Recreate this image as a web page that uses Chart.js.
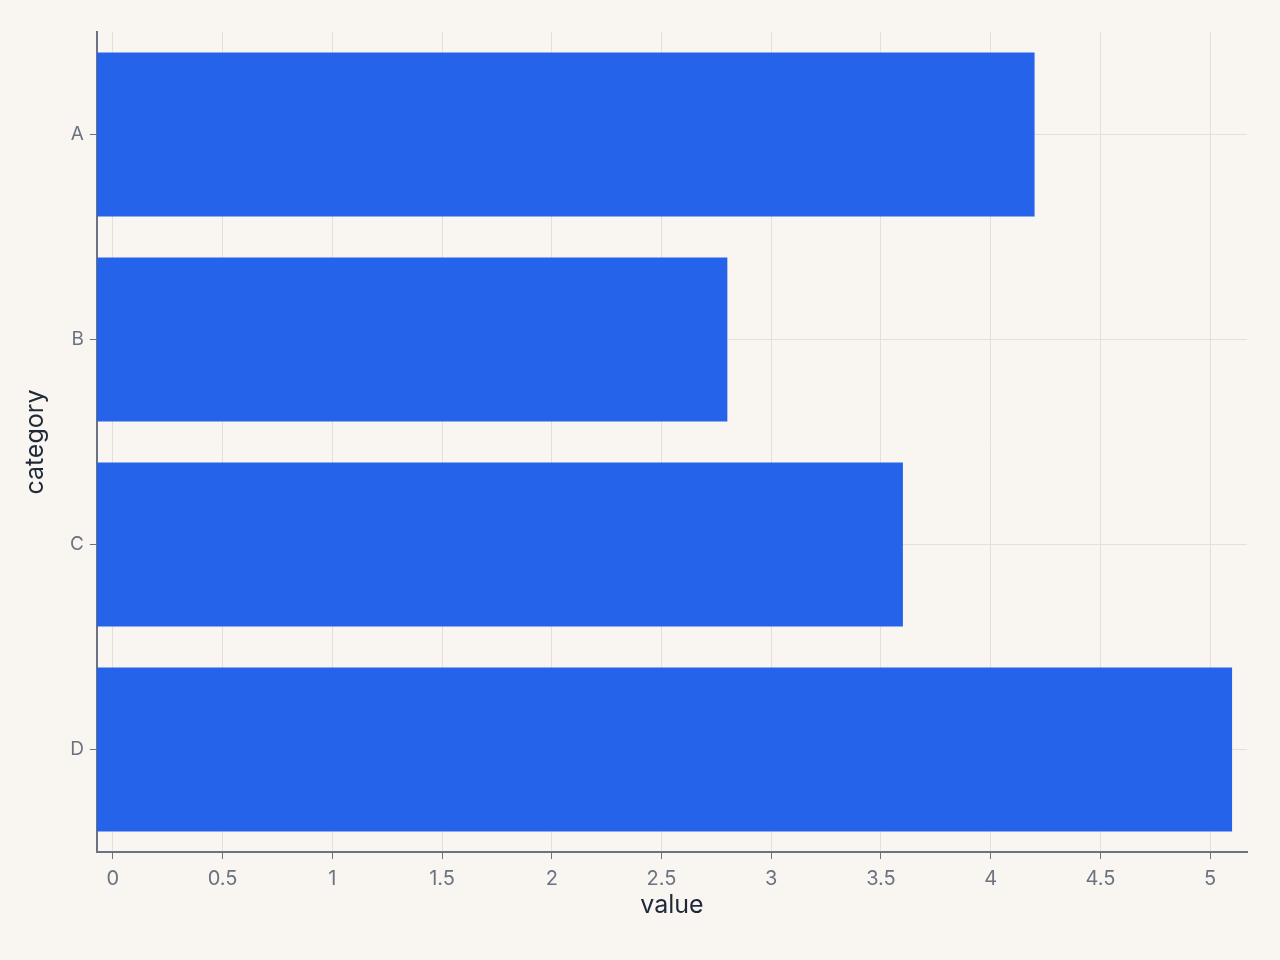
<!DOCTYPE html>
<html>
<head>
<meta charset="utf-8">
<script src="https://cdn.jsdelivr.net/npm/chart.js@4/dist/chart.umd.min.js"></script>
<style>
  html, body { margin: 0; padding: 0; background: #f9f6f1; }
  #wrap { width: 1280px; height: 960px; }
</style>
</head>
<body>
<div id="wrap"><canvas id="myChart" width="1280" height="960"></canvas></div>
<script>
const categories = ['A', 'B', 'C', 'D']
const values = [4.2, 2.8, 3.6, 5.1]
const xMin = -0.073
const xMax = 5.168

const ctx = document.getElementById('myChart');

new Chart(ctx, {
  type: 'bar',
  data: {
    labels: categories,
    datasets: [
      {
        label: 'value',
        data: values,
        base: xMin,
        backgroundColor: '#2563eb',
        borderWidth: 0,
        barPercentage: 0.8,
        categoryPercentage: 1
      }
    ]
  },
  options: {
    indexAxis: 'y',
    responsive: false,
    animation: false,
    layout: { padding: { top: 32, right: 33, bottom: 40, left: 20 } },
    plugins: {
      legend: { display: false },
      tooltip: { enabled: false }
    },
    scales: {
      x: {
        min: xMin,
        max: xMax,
        ticks: {
          stepSize: 0.5,
          includeBounds: false,
          color: '#6b7280',
          font: { family: 'Inter', size: 20 },
          padding: 8,
          callback: (v) => String(Math.round(v * 10) / 10)
        },
        grid: {
          color: '#e4dfd9',
          tickColor: '#6b7280',
          tickLength: 7,
          lineWidth: 1
        },
        border: { color: '#6b7280', width: 2 },
        title: {
          display: true,
          text: 'value',
          color: '#1f2937',
          font: { family: 'Inter', size: 25 },
          padding: { top: -9, bottom: 0 }
        }
      },
      y: {
        ticks: {
          color: '#6b7280',
          font: { family: 'Inter', size: 19 },
          padding: 6
        },
        grid: {
          offset: false,
          color: '#e4dfd9',
          tickColor: '#6b7280',
          tickLength: 7
        },
        border: { color: '#6b7280', width: 2 },
        title: {
          display: true,
          text: 'category',
          color: '#1f2937',
          font: { family: 'Inter', size: 25 },
          padding: { top: 0, bottom: 14 }
        }
      }
    }
  }
});
</script>
</body>
</html>
